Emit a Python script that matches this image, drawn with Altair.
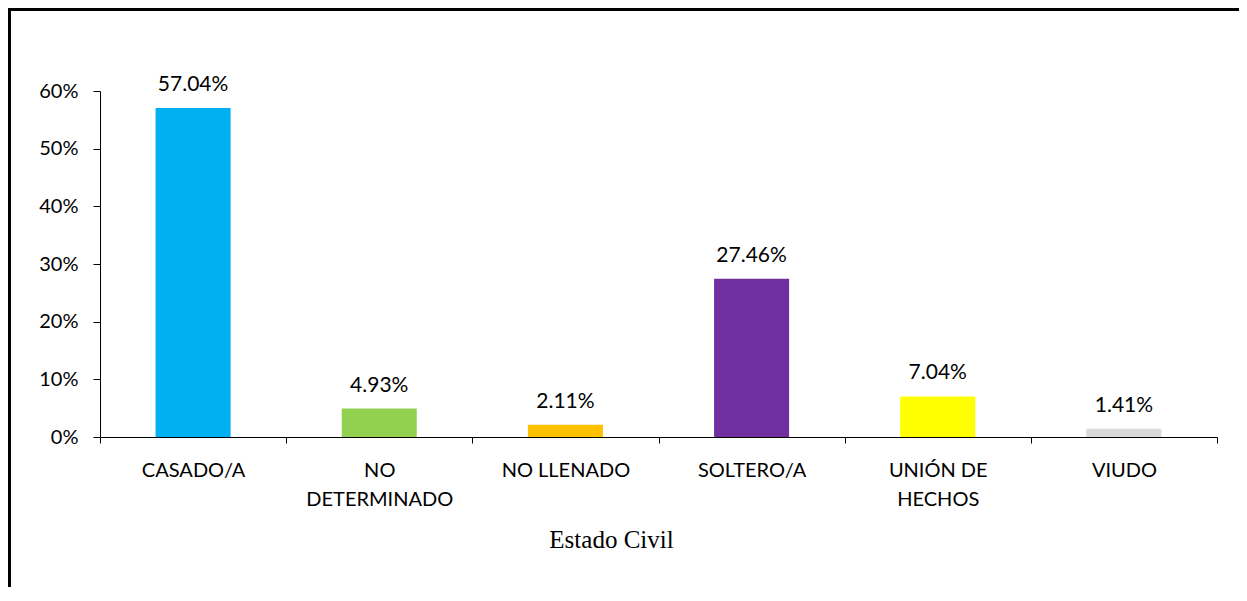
import json
import altair as alt
import pandas as pd

categories = ["CASADO/A", "NO DETERMINADO", "NO LLENADO", "SOLTERO/A", "UNIÓN DE HECHOS", "VIUDO"]
values = [0.5704, 0.0493, 0.0211, 0.2746, 0.0704, 0.0141]
value_labels = ["57.04%", "4.93%", "2.11%", "27.46%", "7.04%", "1.41%"]
colors = ["#00B0F0", "#92D050", "#FFC000", "#7030A0", "#FFFF00", "#D9D9D9"]
label_lines = {"NO DETERMINADO": ["NO", "DETERMINADO"], "UNIÓN DE HECHOS": ["UNIÓN DE", "HECHOS"]}
y_ticks = [0, 0.1, 0.2, 0.3, 0.4, 0.5, 0.6]

df = pd.DataFrame({"cat": categories, "value": values, "label": value_labels})

expr = "datum.label"
for k, v in label_lines.items():
    expr = f"datum.label == {json.dumps(k, ensure_ascii=False)} ? {json.dumps(v, ensure_ascii=False)} : " + expr

FONT = "Lato"

base = alt.Chart(df)

x = alt.X(
    "cat:N",
    sort=categories,
    scale=alt.Scale(paddingInner=0, paddingOuter=0),
    axis=alt.Axis(
        title="Estado Civil",
        labelAngle=0,
        tickBand="extent",
        tickSize=6,
        labelPadding=17,
        labelFont=FONT,
        labelFontSize=20,
        labelColor="black",
        labelLineHeight=29,
        labelExpr=expr,
        domainColor="black",
        tickColor="black",
        titleFont="Liberation Serif",
        titleFontSize=25,
        titleFontWeight="normal",
        titleColor="black",
        titleX=511,
        titleY=102,
        titleBaseline="middle",
        titleAlign="center",
    ),
)

y = alt.Y(
    "value:Q",
    scale=alt.Scale(domain=[0, 0.6]),
    axis=alt.Axis(
        values=y_ticks,
        format=".0%",
        title=None,
        grid=False,
        tickSize=7,
        labelPadding=15,
        labelFont=FONT,
        labelFontSize=20,
        labelColor="black",
        domainColor="black",
        tickColor="black",
    ),
)

bars = base.mark_bar(width=alt.RelativeBandSize(0.403)).encode(
    x=x,
    y=y,
    color=alt.Color("cat:N", scale=alt.Scale(domain=categories, range=colors), legend=None),
)

texts = base.mark_text(dy=-17, baseline="alphabetic", fontSize=21, font=FONT, color="black").encode(
    x=alt.X("cat:N", sort=categories),
    y=alt.Y("value:Q"),
    text="label:N",
)

frame = alt.Chart(alt.Data(values=[{}])).mark_rect(
    fillOpacity=0, stroke="black", strokeWidth=3
).encode(
    x=alt.value(-90.5), x2=alt.value(1400), y=alt.value(-81.5), y2=alt.value(800)
)

chart = (
    alt.layer(bars, texts, frame)
    .properties(
        width=1117,
        height=346,
        autosize=alt.AutoSizeParams(type="none"),
        padding={"left": 92, "top": 83, "right": 22, "bottom": 150},
        background="white",
    )
    .configure_view(strokeWidth=0)
)

chart.save("out.html", embed_options={"renderer": "svg", "actions": False})
